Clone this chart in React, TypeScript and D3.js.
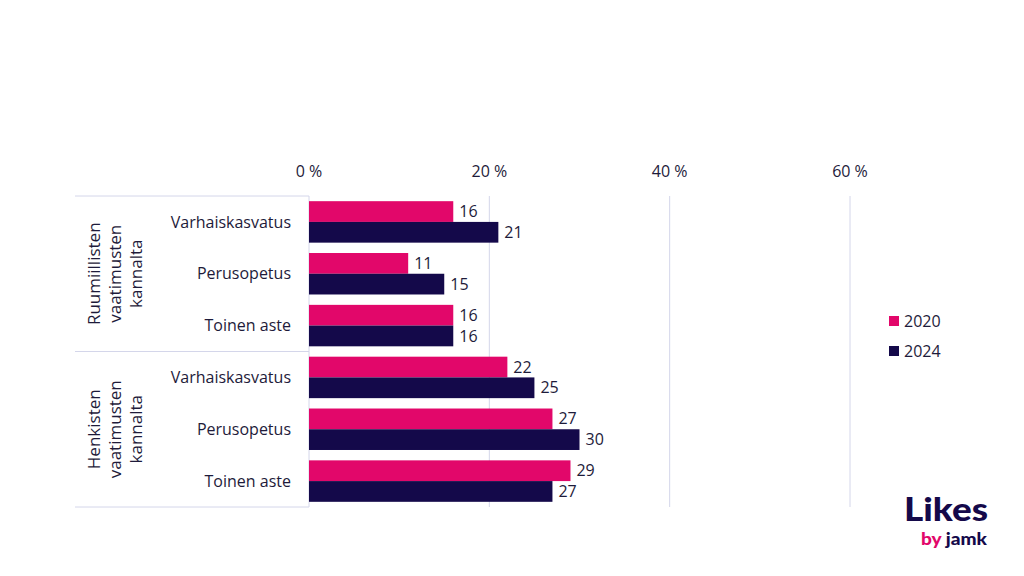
import * as d3 from 'd3'

const groups = [
  ['Ruumiillisten', 'vaatimusten', 'kannalta'],
  ['Henkisten', 'vaatimusten', 'kannalta'],
]
const categories = ['Varhaiskasvatus', 'Perusopetus', 'Toinen aste']
const seriesNames = ['2020', '2024']
const values2020 = [16, 11, 16, 22, 27, 29]
const values2024 = [21, 15, 16, 25, 30, 27]
const ticks = [0, 20, 40, 60]

const pink = '#e2076a'
const navy = '#14094a'
const textCol = '#1e1b3a'
const gridCol = '#d4d6ea'
const font = "'Open Sans', 'Noto Sans', sans-serif"

export default function App() {
  const width = 1024
  const height = 576
  const rows = groups.flatMap((_, gi) => categories.map((c, ci) => `${gi}-${ci}`))

  const x = d3.scaleLinear().domain([0, 60]).range([309, 850])
  const y = d3.scaleBand().domain(rows).range([196, 507]).paddingInner(0.2).paddingOuter(0.1)
  const inner = d3.scaleBand().domain(seriesNames).range([0, y.bandwidth()])
  const rowStep = (507 - 196) / rows.length
  const series = [values2020, values2024]
  const colors = [pink, navy]

  return (
    <svg width={width} height={height} style={{ position: 'absolute', left: 0, top: 0, background: '#fff' }} fontFamily={font}>
      {/* gridlines */}
      {ticks.map(t => (
        <g key={t}>
          {t > 0 && <line x1={x(t)} x2={x(t)} y1={196} y2={507} stroke={gridCol} strokeWidth={1} />}
          <text x={x(t)} y={177} textAnchor="middle" fontSize={16} fill={textCol}>{t} %</text>
        </g>
      ))}
      {/* table lines */}
      {[0, 1, 2].map(i => {
        const yy = 196 + i * rowStep * categories.length
        return <line key={i} x1={75} x2={309} y1={yy} y2={yy} stroke={gridCol} strokeWidth={1} />
      })}
      <line x1={x(0)} x2={x(0)} y1={196} y2={507} stroke={gridCol} strokeWidth={1} />
      {/* group labels */}
      {groups.map((g, gi) => {
        const cy = 196 + (gi + 0.5) * rowStep * categories.length
        return (
          <text key={gi} transform={`translate(116,${cy}) rotate(-90)`} textAnchor="middle" fontSize={17} fill={textCol}>
            {g.map((line, li) => (
              <tspan key={li} x={0} dy={li === 0 ? -16 : 21}>{line}</tspan>
            ))}
          </text>
        )
      })}
      {/* category labels */}
      {rows.map((r, i) => (
        <text key={r} x={291} y={196 + (i + 0.5) * rowStep} dy="0.35em" textAnchor="end" fontSize={16} fill={textCol}>
          {categories[i % categories.length]}
        </text>
      ))}
      {/* bars */}
      {series.map((vals, si) =>
        vals.map((v, i) => {
          const by = (y(rows[i]) ?? 0) + (inner(seriesNames[si]) ?? 0)
          return (
            <g key={`${si}-${i}`}>
              <rect x={x(0)} y={by} width={x(v) - x(0)} height={inner.bandwidth()} fill={colors[si]} />
              <text x={x(v) + 6} y={by + inner.bandwidth() / 2} dy="0.35em" fontSize={16} fill={textCol}>{v}</text>
            </g>
          )
        })
      )}
      {/* legend */}
      {seriesNames.map((s, i) => (
        <g key={s} transform={`translate(889,${321 + i * 30})`}>
          <rect x={0} y={-5} width={10} height={10} fill={colors[i]} />
          <text x={15} y={0} dy="0.35em" fontSize={16} fill={textCol}>{s}</text>
        </g>
      ))}
      {/* logo */}
      <text x={904} y={521} fontSize={33} fontWeight={900} fill={navy} fontFamily="'Lato', sans-serif" textLength={84} lengthAdjust="spacingAndGlyphs">Likes</text>
      <text x={921} y={545} fontSize={17} fontWeight={900} fontFamily="'Lato', sans-serif" textLength={66} lengthAdjust="spacingAndGlyphs">
        <tspan fill={pink}>by </tspan>
        <tspan fill={navy}>jamk</tspan>
      </text>
    </svg>
  )
}
